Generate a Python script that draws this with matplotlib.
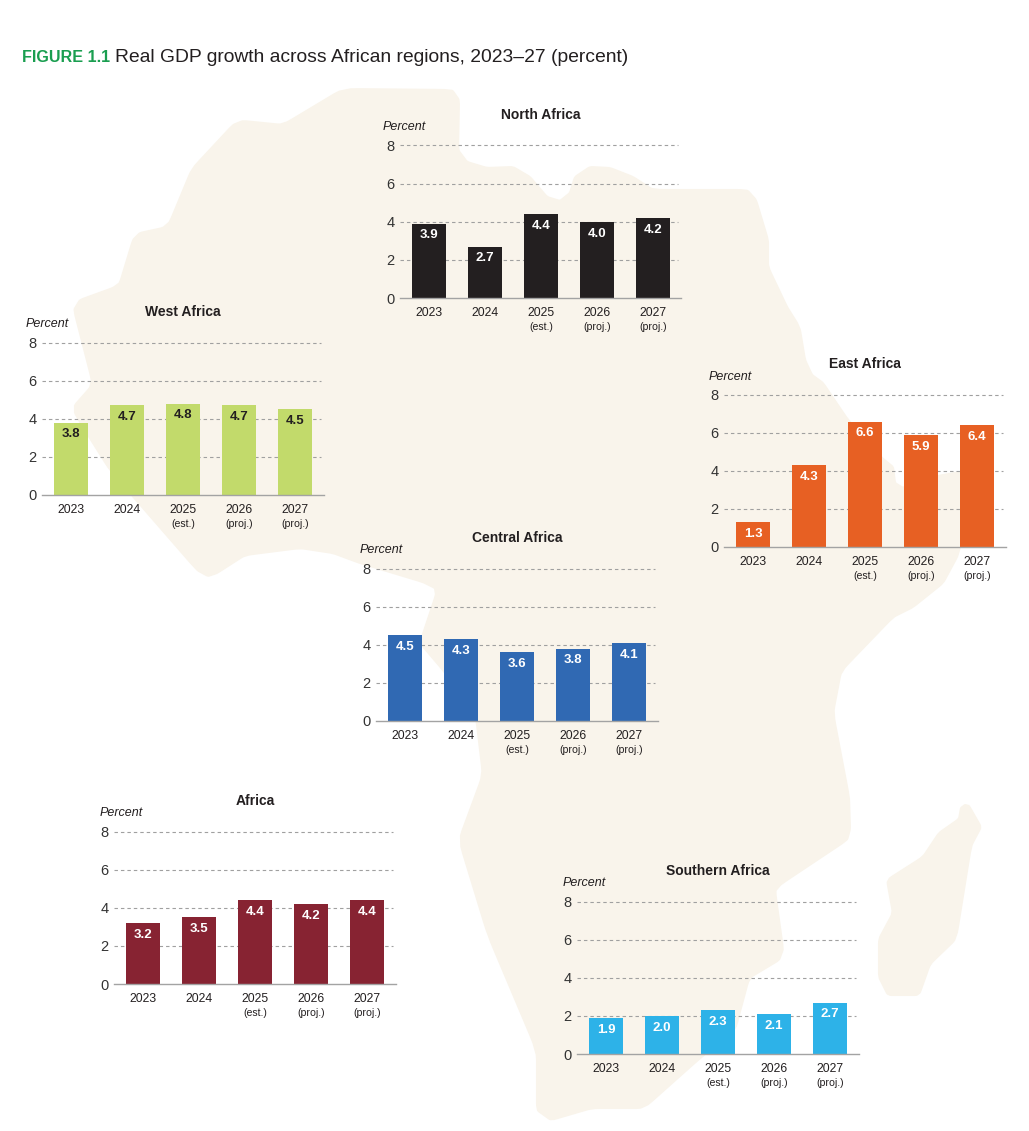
import matplotlib
matplotlib.use('Agg')
import matplotlib.pyplot as plt
from matplotlib.patches import Polygon

plt.rcParams['font.family'] = ['Liberation Sans', 'DejaVu Sans']

W, H = 1029, 1131

years = ['2023', '2024', '2025', '2026', '2027']
year_notes = ['', '', '(est.)', '(proj.)', '(proj.)']
yticks = [0, 2, 4, 6, 8]

north = [3.9, 2.7, 4.4, 4.0, 4.2]
west = [3.8, 4.7, 4.8, 4.7, 4.5]
east = [1.3, 4.3, 6.6, 5.9, 6.4]
central = [4.5, 4.3, 3.6, 3.8, 4.1]
africa = [3.2, 3.5, 4.4, 4.2, 4.4]
southern = [1.9, 2.0, 2.3, 2.1, 2.7]

text_col = '#231f20'
map_col = '#f9f4eb'

# background map outline, in image pixels
mainland = [(343, 89), (452, 90), (459, 100), (458, 150), (467, 162), (487, 168), (513, 167),
            (530, 177), (547, 197), (560, 201), (570, 193), (575, 177), (590, 167), (610, 168),
            (633, 177), (653, 190), (747, 190), (756, 200), (768, 240), (768, 267), (787, 307),
            (797, 323), (800, 330), (805, 360), (812, 375), (823, 383), (848, 420), (882, 458),
            (893, 467), (895, 483), (903, 488), (938, 476), (960, 472), (980, 470), (988, 490),
            (960, 547), (957, 557), (943, 583), (913, 607), (893, 617), (841, 671), (833, 713),
            (849, 797), (850, 829), (847, 840), (781, 884), (775, 891), (783, 949), (779, 960),
            (749, 978), (735, 1030), (699, 1059), (644, 1108), (592, 1108), (551, 1120),
            (537, 1110), (537, 1051), (488, 935), (459, 840), (483, 775), (476, 716), (443, 670),
            (420, 643), (436, 595), (435, 588), (423, 582), (360, 563), (333, 553), (300, 548),
            (245, 555), (217, 573), (208, 576), (197, 570), (110, 470), (83, 427), (75, 413),
            (75, 405), (90, 388), (92, 380), (74, 310), (80, 300), (113, 288), (120, 283),
            (133, 240), (140, 233), (163, 228), (170, 222), (192, 169), (233, 125), (243, 121),
            (283, 125)]
madagascar = [(965, 805), (961, 808), (959, 819), (939, 833), (923, 857), (887, 880), (893, 913),
              (879, 939), (879, 977), (888, 995), (919, 995), (930, 964), (956, 939), (971, 846),
              (981, 827), (969, 806)]


def round_corners(pts, ratio=0.08, passes=2):
    # corner cutting, the map has soft edges
    for _ in range(passes):
        out = []
        for i, (x, y) in enumerate(pts):
            nx, ny = pts[(i + 1) % len(pts)]
            out.append((x + (nx - x) * ratio, y + (ny - y) * ratio))
            out.append((nx + (x - nx) * ratio, ny + (y - ny) * ratio))
        pts = out
    return pts


fig = plt.figure(figsize=(W / 100, H / 100), dpi=100)
bg = fig.add_axes([0, 0, 1, 1])
bg.set_xlim(0, W)
bg.set_ylim(H, 0)
bg.axis('off')
for shape in (mainland, madagascar):
    bg.add_patch(Polygon(round_corners(shape), closed=True, fc=map_col, ec=map_col, lw=1.5,
                         joinstyle='round'))

bg.text(22, 57, 'FIGURE 1.1', color='#1a9e50', fontsize=11.6, fontweight='bold', va='center')
bg.text(115, 57, 'Real GDP growth across African regions, 2023\u201327 (percent)',
        color=text_col, fontsize=13.85, va='center')


def panel(title, values, color, label_col, left, right, y0, y8, pct_dx=0):
    ax = fig.add_axes([left / W, 1 - y0 / H, (right - left) / W, (y0 - y8) / H])
    ax.patch.set_alpha(0)
    first = 29 / 56
    ax.set_xlim(-first, (right - left) / 56 - first)
    ax.set_ylim(0, 8)
    for s in ['top', 'right', 'left']:
        ax.spines[s].set_visible(False)
    ax.spines['bottom'].set_color('#a3a3a3')
    ax.spines['bottom'].set_linewidth(1.0)

    for v in yticks[1:]:
        ax.axhline(v, xmax=0.99, color='#a0a0a0', lw=0.8, ls=(0, (3.1, 2.7)), zorder=1, clip_on=False)

    xs = range(len(years))
    bars = ax.bar(xs, values, width=0.6, color=color, zorder=2)
    for b, v in zip(bars, values):
        ax.annotate(f'{v:.1f}', (b.get_x() + b.get_width() / 2, v), xytext=(0, -8.5),
                    textcoords='offset points', ha='center', va='center',
                    color=label_col, fontsize=9.5, fontweight='bold', zorder=3)

    ax.set_yticks(yticks)
    ax.tick_params(axis='y', length=0, pad=4, labelsize=10.5, labelcolor='#333333')
    ax.set_xticks(list(xs))
    ax.set_xticklabels(years)
    ax.tick_params(axis='x', length=0, pad=6.2, labelsize=8.8, labelcolor=text_col)
    for x, note in zip(xs, year_notes):
        if note:
            ax.annotate(note, (x, 0), xytext=(0, -21), textcoords='offset points', ha='center',
                        va='center', fontsize=7.6, color=text_col)

    ax.annotate('Percent', (0, 1), xycoords='axes fraction', xytext=(-12.5 + pct_dx * 0.72, 13),
                textcoords='offset points', ha='left', va='center', style='italic',
                fontsize=9, color=text_col)
    ax.annotate(title, (2, 8), xytext=(0, 22), textcoords='offset points', ha='center',
                va='center', fontsize=10, fontweight='bold', color=text_col,
                annotation_clip=False)
    return ax


panel('North Africa', north, '#231f20', 'white', 400, 681, 298, 145.5)
panel('West Africa', west, '#c2da6b', text_col, 42, 324, 495, 342.5, pct_dx=1)
panel('East Africa', east, '#e76023', 'white', 724, 1006, 547, 395, pct_dx=2)
panel('Central Africa', central, '#3069b3', 'white', 376, 658, 721, 568.5, pct_dx=1)
panel('Africa', africa, '#872332', 'white', 114, 396, 984, 831.5, pct_dx=3)
panel('Southern Africa', southern, '#2db2e8', 'white', 577, 859, 1054, 901.5, pct_dx=3)

fig.savefig('out.png', dpi=100)
